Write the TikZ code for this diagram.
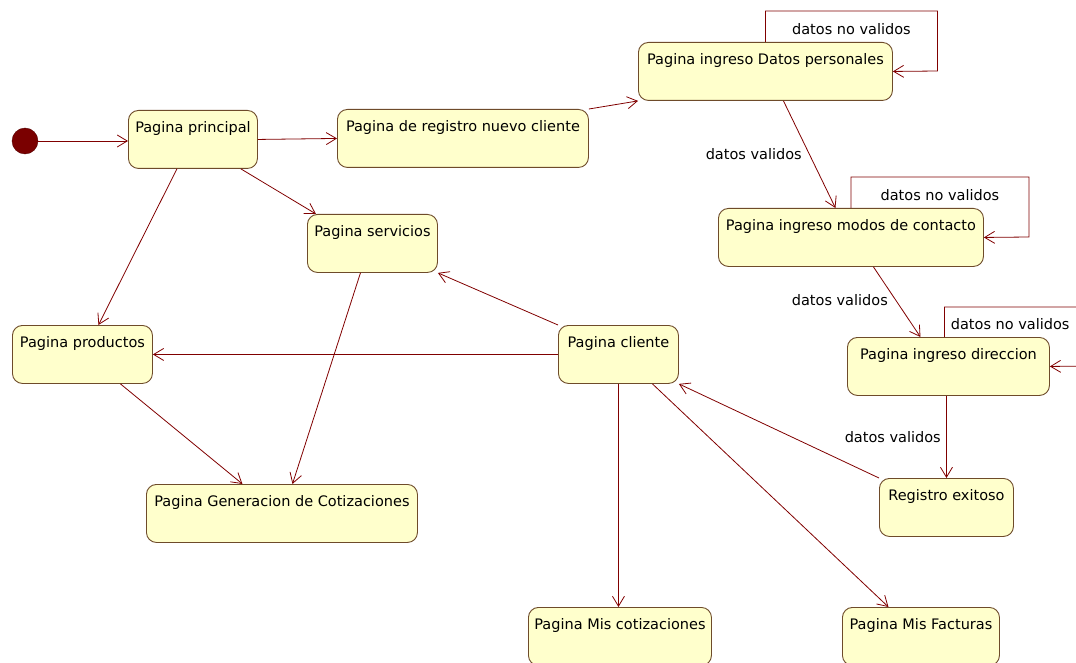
\documentclass[tikz,border=0pt]{standalone}
\usepackage{fontspec}
\setmainfont{DejaVu Sans}
\usepackage{tikz}
\usetikzlibrary{arrows.meta}
\definecolor{rojoflecha}{HTML}{800000}
\definecolor{fondoestado}{HTML}{FFFFCC}
\definecolor{bordeestado}{HTML}{6E4B2A}
\definecolor{inicial}{HTML}{7A0000}

\begin{document}
\begin{tikzpicture}[x=1pt,y=-1pt,font=\fontsize{14.5}{17}\selectfont,
  estado/.style={draw=bordeestado,line width=0.9pt,fill=fondoestado,rounded corners=10pt,anchor=north west,inner xsep=5pt,inner ysep=6pt,text height=16.5pt,text depth=29.5pt},
  transicion/.style={draw=rojoflecha,line width=0.8pt,-{Straight Barb[length=10pt,width=12pt]}},
  etiqueta/.style={text=black}]
  \useasboundingbox (0,0) rectangle (1076,663);
  \node[circle,fill=inicial,draw=inicial!70!black,minimum size=26pt,inner sep=0pt] (inicio) at (25,141) {};
  \node[estado,minimum width=129pt] (principal) at (128,110) {Pagina principal};
  \node[estado,minimum width=251pt] (registro) at (337,109) {Pagina de registro nuevo cliente};
  \node[estado,minimum width=254pt] (datos) at (638,42) {Pagina ingreso Datos personales};
  \node[estado,minimum width=130pt] (servicios) at (307,214) {Pagina servicios};
  \node[estado,minimum width=265pt] (modos) at (718,208) {Pagina ingreso modos de contacto};
  \node[estado,minimum width=140pt] (productos) at (12,325) {Pagina productos};
  \node[estado,minimum width=120pt] (cliente) at (558,325) {Pagina cliente};
  \node[estado,minimum width=202pt] (direccion) at (847,337) {Pagina ingreso direccion};
  \node[estado,minimum width=271pt] (generacion) at (146,484) {Pagina Generacion de Cotizaciones};
  \node[estado,minimum width=134pt] (registrook) at (879,478) {Registro exitoso};
  \node[estado,minimum width=183pt] (miscot) at (528,607) {Pagina Mis cotizaciones};
  \node[estado,minimum width=157pt] (facturas) at (842,607) {Pagina Mis Facturas};
  \draw[transicion] (inicio) -- (inicio -| principal.west);
  \draw[transicion] (principal.east) -- (registro.west);
  \draw[transicion] (registro.north east) -- (datos.south west);
  \draw[transicion] ([xshift=-17pt]principal.south east) -- ([xshift=9pt]servicios.north west);
  \draw[transicion] ([xshift=-16pt]principal.south) -- ([xshift=16pt]productos.north);
  \draw[transicion] ([xshift=18pt]datos.south) -- node[etiqueta,left=4pt] {datos validos} ([xshift=-15.5pt]modos.north);
  \draw[transicion] ([xshift=22.5pt]modos.south) -- node[etiqueta,left=4pt,pos=0.47] {datos validos} ([xshift=-28pt]direccion.north);
  \draw[transicion] (registrook.north |- direccion.south) -- node[etiqueta,left=2pt] {datos validos} (registrook.north);
  \foreach \n/\w in {datos/172,modos/178}
    \draw[transicion] (\n.north) -- ++(0,-31) -- ++(\w,0) node[etiqueta,midway,below=8.5pt] {datos no validos} -- ++(0,60) -- (\n.east);
  \draw[transicion] ([xshift=-4pt]direccion.north) -- ++(0,-30) node[etiqueta,anchor=north west,inner sep=0pt,xshift=6pt,yshift=-11.5pt] {datos no validos} -- ++(150,0) -- ++(0,59) -- (direccion.east);
  \draw[transicion] (registrook.north west) -- (cliente.south east);
  \draw[transicion] (cliente.north west) -- (servicios.south east);
  \draw[transicion] (cliente.west) -- (productos.east);
  \draw[transicion] ([xshift=38pt]productos.south) -- ([xshift=-39.5pt]generacion.north);
  \draw[transicion] ([xshift=-12pt]servicios.south) -- ([xshift=10.5pt]generacion.north);
  \draw[transicion] (cliente.south) -- (cliente.south |- miscot.north);
  \draw[transicion] ([xshift=34pt]cliente.south) -- ([xshift=-32.5pt]facturas.north);
\end{tikzpicture}
\end{document}
